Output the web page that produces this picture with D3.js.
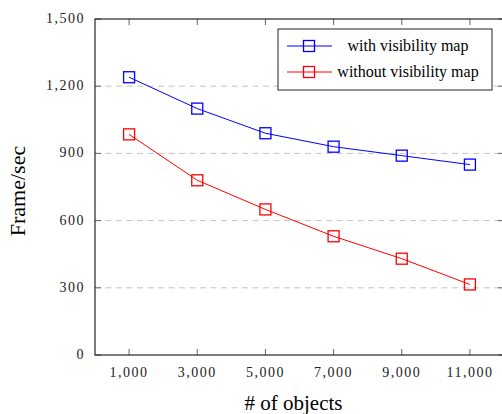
<!DOCTYPE html>
<html>
<head>
<meta charset="utf-8">
<script src="https://cdn.jsdelivr.net/npm/d3@7"></script>
<style>
  body { margin: 0; background: #fff; }
  svg text { font-family: "Liberation Serif", "DejaVu Serif", serif; }
</style>
</head>
<body>
<div id="chart"></div>
<script>
// data
var objects = [1000, 3000, 5000, 7000, 9000, 11000];
var withMap = [1240, 1100, 990, 930, 890, 850];
var withoutMap = [985, 780, 650, 530, 430, 315];
var yTicks = [0, 300, 600, 900, 1200, 1500];
var seriesNames = ["with visibility map", "without visibility map"];
var seriesColors = ["#0000ff", "#ff0000"];

const width = 502, height = 414;
const margin = { top: 19, right: -2, bottom: 59, left: 95 };
const iw = width - margin.left - margin.right,
      ih = height - margin.top - margin.bottom;
const serif = "'Liberation Serif', 'DejaVu Serif', serif";

var svg = d3.select("#chart").append("svg")
    .attr("width", width)
    .attr("height", height)
    .attr("font-family", serif);

var g = svg.append("g")
    .attr("transform", "translate(" + margin.left + "," + margin.top + ")");

var x = d3.scaleLinear().domain([0, 12000]).range([0, iw]);
var y = d3.scaleLinear().domain([0, 1500]).range([ih, 0]);

// grid lines
g.selectAll(".grid")
    .data(yTicks.filter(function (d) { return d > 0 && d < 1500; }))
    .enter().append("line")
    .attr("x1", 0).attr("x2", iw)
    .attr("y1", function (d) { return y(d); })
    .attr("y2", function (d) { return y(d); })
    .attr("stroke", "#c4c4c4")
    .attr("stroke-width", 1)
    .attr("stroke-dasharray", "6,4.5");

// inner ticks on all four sides
var tickLen = 6;
var tickColor = "#666";
objects.forEach(function (d) {
    g.append("line").attr("x1", x(d)).attr("x2", x(d))
        .attr("y1", ih).attr("y2", ih - tickLen)
        .attr("stroke", tickColor);
    g.append("line").attr("x1", x(d)).attr("x2", x(d))
        .attr("y1", 0).attr("y2", tickLen)
        .attr("stroke", tickColor);
});
yTicks.forEach(function (d) {
    g.append("line").attr("x1", 0).attr("x2", tickLen)
        .attr("y1", y(d)).attr("y2", y(d))
        .attr("stroke", tickColor);
    g.append("line").attr("x1", iw).attr("x2", iw - tickLen)
        .attr("y1", y(d)).attr("y2", y(d))
        .attr("stroke", tickColor);
});

// frame
g.append("rect")
    .attr("x", 0).attr("y", 0)
    .attr("width", iw).attr("height", ih)
    .attr("fill", "none")
    .attr("stroke", "#262626")
    .attr("stroke-width", 1.2);

// tick labels
var fmt = d3.format(",");
g.selectAll(".xlab")
    .data(objects)
    .enter().append("text")
    .attr("x", function (d) { return x(d); })
    .attr("y", ih + 22)
    .attr("text-anchor", "middle")
    .attr("font-size", 14)
    .attr("fill", "#222")
    .style("letter-spacing", "1.5px")
    .text(fmt);

g.selectAll(".ylab")
    .data(yTicks)
    .enter().append("text")
    .attr("x", -10)
    .attr("y", function (d) { return y(d) + 4; })
    .attr("text-anchor", "end")
    .attr("font-size", 14)
    .attr("fill", "#222")
    .style("letter-spacing", "1.5px")
    .text(fmt);

// axis titles
svg.append("text")
    .attr("x", margin.left + x(6000) - 6)
    .attr("y", 410)
    .attr("text-anchor", "middle")
    .attr("font-size", 21)
    .text("# of objects");

svg.append("text")
    .attr("transform", "translate(25," + (margin.top + ih / 2 + 4) + ") rotate(-90)")
    .attr("text-anchor", "middle")
    .attr("font-size", 22)
    .text("Frame/sec");

// series
var series = [withMap, withoutMap];
var line = d3.line()
    .x(function (d, i) { return x(objects[i]); })
    .y(function (d) { return y(d); });

var ms = 11;
series.forEach(function (s, k) {
    g.append("path")
        .datum(s)
        .attr("d", line)
        .attr("fill", "none")
        .attr("stroke", seriesColors[k])
        .attr("stroke-width", 1);
    g.selectAll(".m" + k)
        .data(s)
        .enter().append("rect")
        .attr("x", function (d, i) { return x(objects[i]) - ms / 2; })
        .attr("y", function (d) { return y(d) - ms / 2; })
        .attr("width", ms).attr("height", ms)
        .attr("fill", "none")
        .attr("stroke", seriesColors[k])
        .attr("stroke-width", 1.3);
});

// legend
var legend = svg.append("g").attr("transform", "translate(278,29)");
legend.append("rect")
    .attr("width", 214).attr("height", 61)
    .attr("fill", "#fff")
    .attr("stroke", "#222")
    .attr("stroke-width", 1);

seriesNames.forEach(function (name, k) {
    var ly = 17 + k * 26;
    legend.append("line")
        .attr("x1", 9).attr("x2", 54)
        .attr("y1", ly).attr("y2", ly)
        .attr("stroke", seriesColors[k]);
    legend.append("rect")
        .attr("x", 31 - ms / 2).attr("y", ly - ms / 2)
        .attr("width", ms).attr("height", ms)
        .attr("fill", "none")
        .attr("stroke", seriesColors[k])
        .attr("stroke-width", 1.3);
    legend.append("text")
        .attr("x", 130)
        .attr("y", ly + 5)
        .attr("text-anchor", "middle")
        .attr("font-size", 16)
        .text(name);
});
</script>
</body>
</html>
